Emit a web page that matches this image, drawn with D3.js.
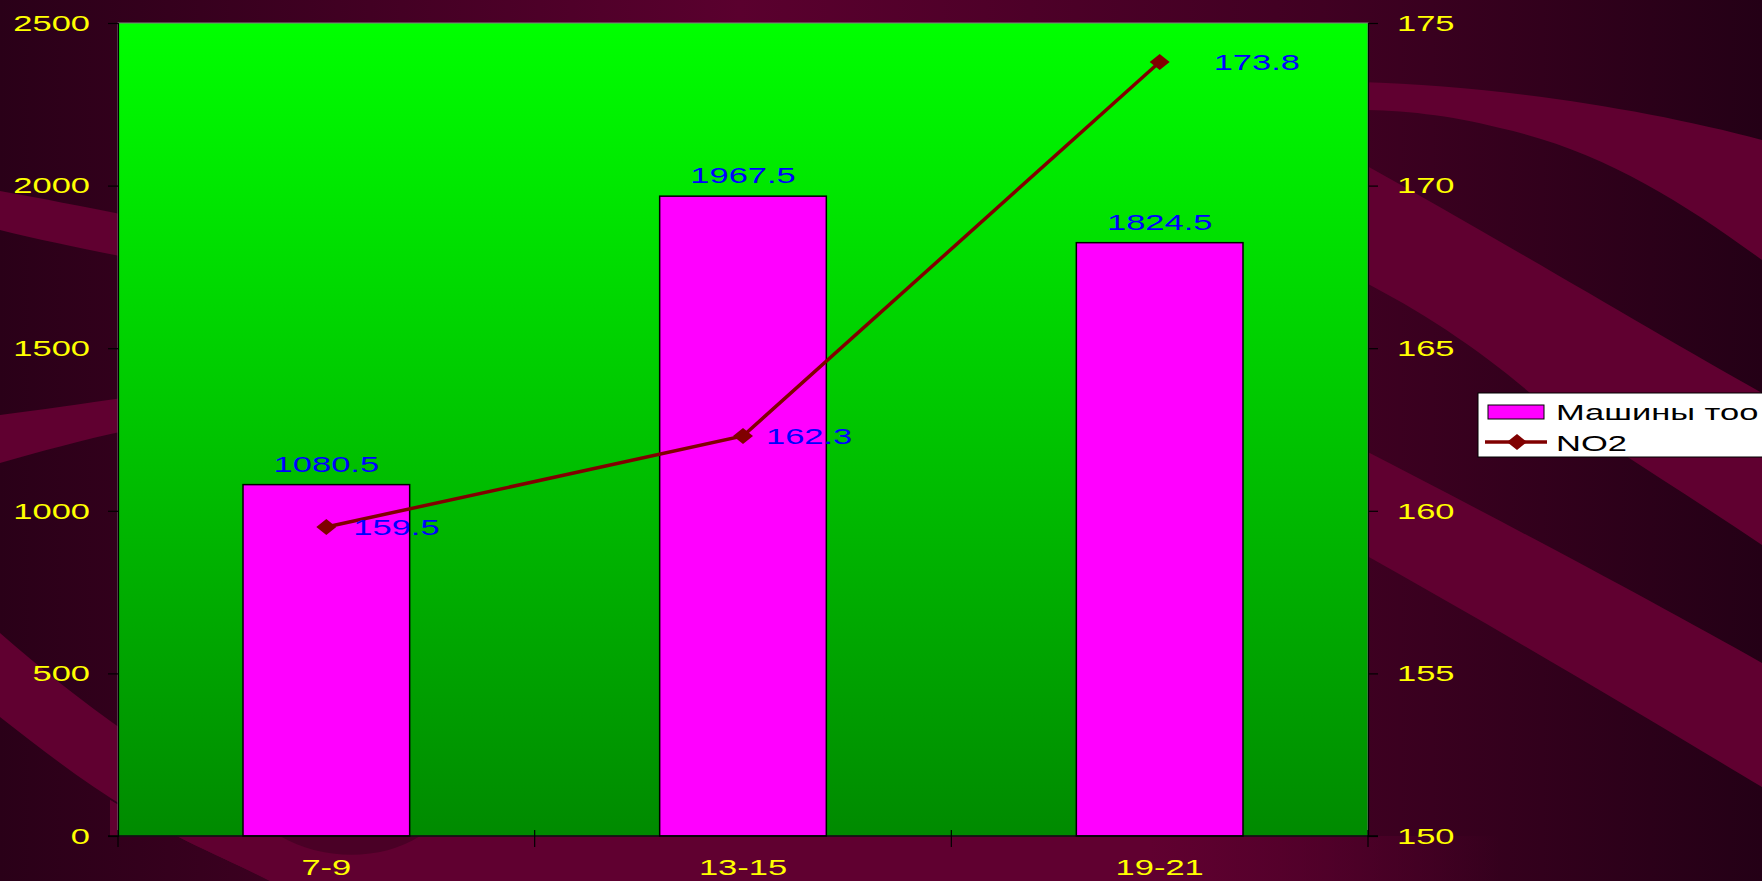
<!DOCTYPE html>
<html><head><meta charset="utf-8">
<script src="https://cdn.jsdelivr.net/npm/d3@7"></script>
<style>html,body{margin:0;padding:0;overflow:hidden;background:#2a0018}</style>
</head><body>
<svg id="c" width="1762" height="881"></svg>
<script>
const categories = ["7-9", "13-15", "19-21"];
const carValues = [1080.5, 1967.5, 1824.5];
const no2Values = [159.5, 162.3, 173.8];
const leftTicks = [0, 500, 1000, 1500, 2000, 2500];
const rightTicks = [150, 155, 160, 165, 170, 175];
const seriesNames = ["Машины тоо", "NO2"];

const W = 1762, H = 881;
const m = {left: 118, top: 23, right: 1368, bottom: 836};
const SX = 1.5, FS = 23;
const font = "'Liberation Sans', Arial, sans-serif";
const svg = d3.select("#c");
const defs = svg.append("defs");

function stext(g, x, y, txt, fill, anchor) {
  return g.append("text").attr("transform", `translate(${x},${y}) scale(${SX},1)`)
    .attr("text-anchor", anchor || "start").attr("font-family", font).attr("font-size", FS)
    .attr("fill", fill).text(txt);
}

// background
const bg = defs.append("linearGradient").attr("id","bg").attr("x1","0").attr("x2","1").attr("y1","0").attr("y2","0");
[[0,"#2a0018"],[0.42,"#5a002e"],[0.75,"#400022"],[1,"#240016"]].forEach(s=>bg.append("stop").attr("offset",s[0]).attr("stop-color",s[1]));
svg.append("rect").attr("width",W).attr("height",H).attr("fill","url(#bg)");
const band = "#600030";
const bands = [
  "M0,191 C40,198 80,206 130,216 L130,258 C80,248 40,240 0,230 Z",
  "M0,415 C40,410 80,404 130,397 L130,430 C80,440 40,452 0,463 Z",
  "M0,633 C40,668 80,700 130,735 L130,810 C80,780 40,748 0,717 Z",
  "M1360,82 C1500,86 1650,110 1762,140 L1762,260 C1680,200 1600,150 1500,128 C1450,115 1400,110 1360,110 Z",
  "M1360,162 C1500,240 1650,330 1762,393 L1762,545 C1680,490 1600,440 1530,393 C1480,350 1420,310 1360,280 Z",
  "M1360,448 C1500,520 1650,600 1762,663 L1762,787 C1650,720 1500,630 1360,552 Z"
];
svg.append("g").selectAll("path").data(bands).join("path").attr("d",d=>d).attr("fill",band);
// bottom strip, fading out to the right
const sg = defs.append("linearGradient").attr("id","sg").attr("gradientUnits","userSpaceOnUse")
  .attr("x1",1150).attr("x2",1500).attr("y1",0).attr("y2",0);
sg.append("stop").attr("offset",0).attr("stop-color",band).attr("stop-opacity",1);
sg.append("stop").attr("offset",1).attr("stop-color",band).attr("stop-opacity",0);
svg.append("path").attr("d","M110,800 C170,836 230,860 270,881 L1550,881 L1550,836 L110,836 Z").attr("fill","url(#sg)");
svg.append("path").attr("d","M110,800 C170,836 230,860 270,881 L1150,881 L1150,836 L110,836 Z").attr("fill",band);
svg.append("path").attr("d","M280,836 C320,860 380,862 420,836 Z").attr("fill","#4a0026");

// plot gradient
const pg = defs.append("linearGradient").attr("id","pg").attr("x1","0").attr("x2","0").attr("y1","0").attr("y2","1");
pg.append("stop").attr("offset",0).attr("stop-color","#00ff00");
pg.append("stop").attr("offset",1).attr("stop-color","#008a00");
svg.append("rect").attr("x",m.left).attr("y",m.top).attr("width",m.right-m.left).attr("height",m.bottom-m.top)
  .attr("fill","url(#pg)").attr("stroke","#808080").attr("stroke-width",1);

const x = d3.scaleBand().domain(categories).range([m.left,m.right]).paddingInner(0).paddingOuter(0);
const yL = d3.scaleLinear().domain([0,2500]).range([m.bottom,m.top]);
const yR = d3.scaleLinear().domain([150,175]).range([m.bottom,m.top]);
const bw = x.bandwidth()*0.4;
const cx = c => x(c)+x.bandwidth()/2;

// bars
svg.append("g").selectAll("rect").data(carValues).join("rect")
  .attr("x",(d,i)=>cx(categories[i])-bw/2)
  .attr("y",d=>yL(d)).attr("width",bw).attr("height",d=>yL(0)-yL(d))
  .attr("fill","#ff00ff").attr("stroke","#000").attr("stroke-width",1.5);

// bar labels
const bl = svg.append("g");
carValues.forEach((d,i)=>stext(bl, cx(categories[i]), yL(d)-13, d.toFixed(1), "#0000ff", "middle"));

// axes
const axL = svg.append("g").attr("transform",`translate(${m.left},0)`)
  .call(d3.axisLeft(yL).tickValues(leftTicks).tickSize(10).tickPadding(18).tickFormat(d3.format("d")));
const axR = svg.append("g").attr("transform",`translate(${m.right},0)`)
  .call(d3.axisRight(yR).tickValues(rightTicks).tickSize(10).tickPadding(19).tickFormat(d3.format("d")));
[axL,axR].forEach(a=>{
  a.select(".domain").attr("stroke","#000").attr("stroke-width",1.2);
  a.selectAll(".tick line").attr("stroke","#000").attr("stroke-width",1.2);
  a.selectAll(".tick text").each(function(){
    const t = d3.select(this);
    const xx = +t.attr("x");
    t.attr("x",0).attr("transform",`translate(${xx},0) scale(${SX},1)`)
     .attr("fill","#ffff00").attr("font-family",font).attr("font-size",FS);
  });
});
// x axis
const xb = svg.append("g");
xb.append("line").attr("x1",m.left-10).attr("x2",m.right+10).attr("y1",m.bottom).attr("y2",m.bottom).attr("stroke","#000").attr("stroke-width",1.5);
const bounds = categories.map(c=>x(c)).concat([m.right]);
xb.selectAll("line.t").data(bounds).join("line").attr("class","t")
  .attr("x1",d=>d).attr("x2",d=>d).attr("y1",m.bottom-6).attr("y2",m.bottom+11).attr("stroke","#000").attr("stroke-width",1.2);
categories.forEach(c=>stext(xb, cx(c), 875, c, "#ffff00", "middle"));

// line
const pts = no2Values.map((v,i)=>[cx(categories[i]), yR(v)]);
svg.append("path").attr("d",d3.line()(pts)).attr("fill","none").attr("stroke","#800000").attr("stroke-width",3.5);
const diamond = (px,py)=>`M${px-10},${py} L${px},${py-8} L${px+10},${py} L${px},${py+8} Z`;
svg.append("g").selectAll("path").data(pts).join("path").attr("d",p=>diamond(p[0],p[1])).attr("fill","#800000");
const labelDx = [27, 23, 54];
const ll = svg.append("g");
no2Values.forEach((d,i)=>stext(ll, pts[i][0]+labelDx[i], pts[i][1]+8, d.toFixed(1), "#0000ff"));

// legend
const lg = svg.append("g");
lg.append("rect").attr("x",1478).attr("y",393).attr("width",300).attr("height",64).attr("fill","#fff").attr("stroke","#000").attr("stroke-width",1);
lg.append("rect").attr("x",1488).attr("y",405).attr("width",56).attr("height",14).attr("fill","#ff00ff").attr("stroke","#000").attr("stroke-width",1);
stext(lg, 1556, 420, seriesNames[0], "#000");
lg.append("line").attr("x1",1485).attr("x2",1547).attr("y1",442).attr("y2",442).attr("stroke","#800000").attr("stroke-width",3.5);
lg.append("path").attr("d",diamond(1517,442)).attr("fill","#800000");
stext(lg, 1556, 451, seriesNames[1], "#000");
</script>
</body></html>
